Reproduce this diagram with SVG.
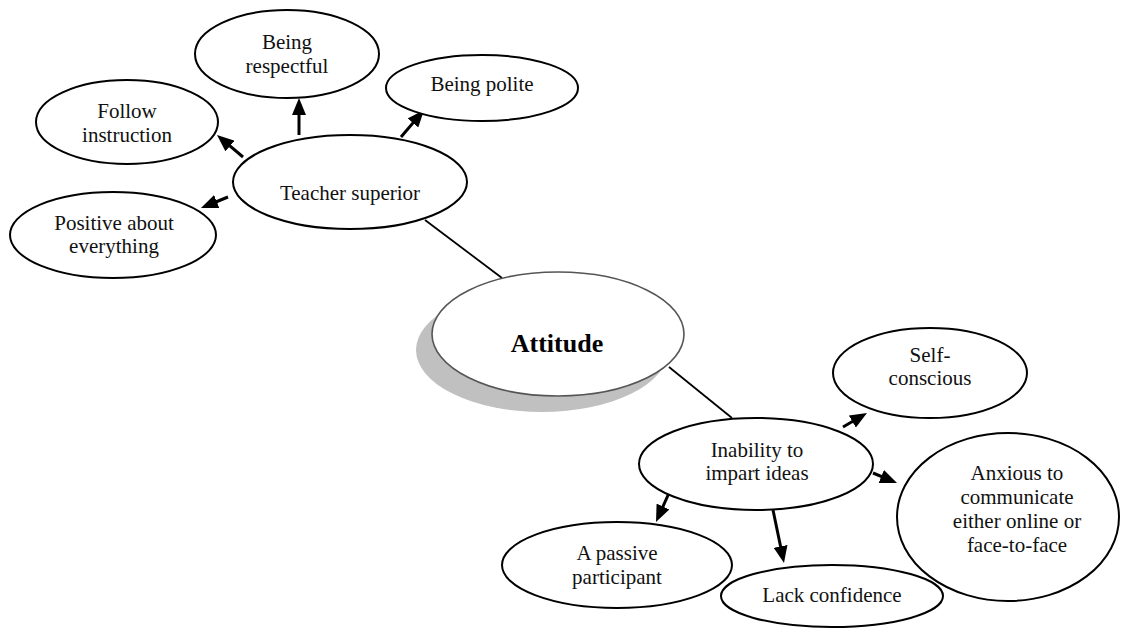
<svg xmlns="http://www.w3.org/2000/svg" width="1133" height="635" viewBox="0 0 1133 635">
  <style>
    .node { fill: #ffffff; stroke: #000000; stroke-width: 2; }
    .label { font-family: "Liberation Serif", "Times New Roman", serif; font-size: 21px; fill: #111111; text-anchor: middle; }
    .title { font-family: "Liberation Serif", "Times New Roman", serif; font-size: 26px; font-weight: bold; fill: #000000; text-anchor: middle; }
    .link { stroke: #000000; stroke-width: 1.8; fill: none; }
    .arrow { stroke: #000000; stroke-width: 3; fill: none; marker-end: url(#head); }
  </style>
  <defs>
    <marker id="head" markerUnits="userSpaceOnUse" markerWidth="17" markerHeight="14" refX="9" refY="7" orient="auto">
      <path d="M0,0 L17,7 L0,14 z" fill="#000000"/>
    </marker>
  </defs>

  <rect width="1133" height="635" fill="#ffffff"/>

  <!-- connectors -->
  <g id="connectors">
    <line class="link" x1="425" y1="220" x2="502" y2="278"/>
    <line class="link" x1="669" y1="367" x2="732" y2="418"/>
    <line class="arrow" x1="243" y1="157" x2="223.1" y2="140.2"/>
    <line class="arrow" x1="299" y1="135" x2="299" y2="106"/>
    <line class="arrow" x1="401" y1="137" x2="418.8" y2="116.1"/>
    <line class="arrow" x1="228" y1="197" x2="208.4" y2="205"/>
    <line class="arrow" x1="843" y1="427" x2="860.1" y2="417"/>
    <line class="arrow" x1="873" y1="473" x2="889.6" y2="479.9"/>
    <line class="arrow" x1="669" y1="493" x2="659.3" y2="514.7"/>
    <line class="arrow" x1="773" y1="510" x2="782.4" y2="555.2"/>
  </g>

  <!-- central node with drop shadow -->
  <g id="attitude">
    <ellipse cx="542" cy="350" rx="126" ry="62" fill="#c0c0c0"/>
    <ellipse cx="558" cy="334" rx="126" ry="62" fill="#ffffff" stroke="#555555" stroke-width="1.6"/>
    <text class="title" x="557" y="352">Attitude</text>
  </g>

  <g id="teacher-superior">
    <ellipse class="node" cx="350" cy="182" rx="117" ry="47"/>
    <text class="label" x="350" y="200">Teacher superior</text>
  </g>

  <g id="being-respectful">
    <ellipse class="node" cx="287" cy="54" rx="92" ry="44"/>
    <text class="label" x="287" y="49">Being</text>
    <text class="label" x="287" y="73">respectful</text>
  </g>

  <g id="being-polite">
    <ellipse class="node" cx="482" cy="88" rx="96" ry="33"/>
    <text class="label" x="482" y="91">Being polite</text>
  </g>

  <g id="follow-instruction">
    <ellipse class="node" cx="127" cy="122" rx="91" ry="42"/>
    <text class="label" x="127" y="118">Follow</text>
    <text class="label" x="127" y="142">instruction</text>
  </g>

  <g id="positive-about-everything">
    <ellipse class="node" cx="113" cy="235" rx="103" ry="43"/>
    <text class="label" x="114" y="230">Positive about</text>
    <text class="label" x="114" y="253">everything</text>
  </g>

  <g id="inability">
    <ellipse class="node" cx="756" cy="464" rx="117" ry="46"/>
    <text class="label" x="757" y="457">Inability to</text>
    <text class="label" x="757" y="480">impart ideas</text>
  </g>

  <g id="self-conscious">
    <ellipse class="node" cx="930" cy="373" rx="97" ry="45"/>
    <text class="label" x="930" y="362">Self-</text>
    <text class="label" x="930" y="385">conscious</text>
  </g>

  <g id="anxious">
    <ellipse class="node" cx="1008" cy="517" rx="111" ry="84"/>
    <text class="label" x="1017" y="480">Anxious to</text>
    <text class="label" x="1017" y="504">communicate</text>
    <text class="label" x="1017" y="528">either online or</text>
    <text class="label" x="1017" y="552">face-to-face</text>
  </g>

  <g id="passive-participant">
    <ellipse class="node" cx="617" cy="565" rx="115" ry="43"/>
    <text class="label" x="617" y="560">A passive</text>
    <text class="label" x="617" y="584">participant</text>
  </g>

  <g id="lack-confidence">
    <ellipse class="node" cx="832" cy="596" rx="111" ry="31"/>
    <text class="label" x="832" y="602">Lack confidence</text>
  </g>
</svg>
